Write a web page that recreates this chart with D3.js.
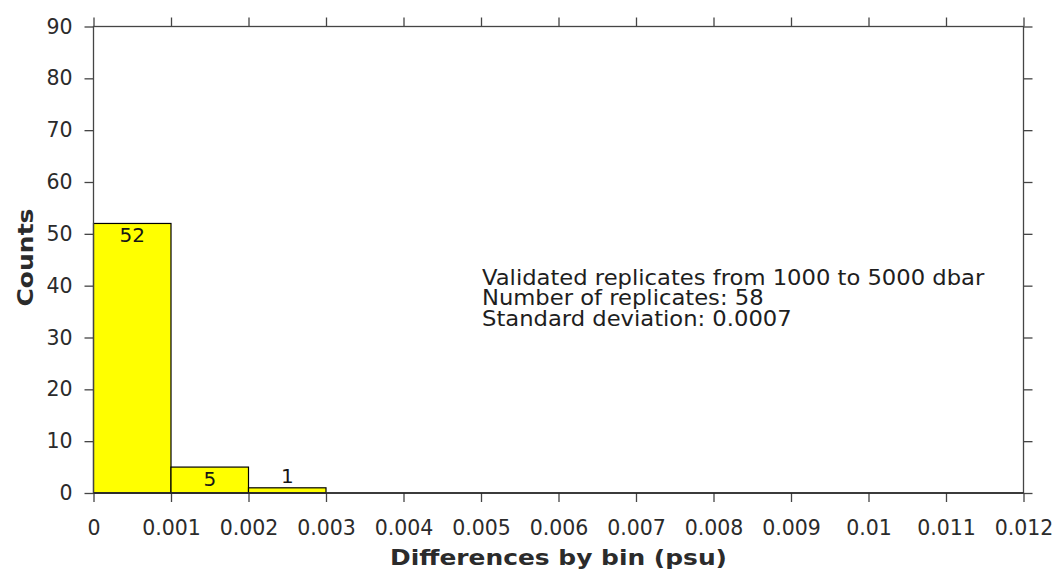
<!DOCTYPE html>
<html>
<head>
<meta charset="utf-8">
<script src="https://cdn.jsdelivr.net/npm/d3@7"></script>
<style>
  html, body { margin: 0; padding: 0; background: #fff; }
  svg { display: block; font-family: "DejaVu Sans", sans-serif; }
</style>
</head>
<body>
<svg id="chart" width="1059" height="574"></svg>
<script>
// Histogram bins (psu) and counts
const binEdges = [0, 0.001, 0.002, 0.003];
const counts = [52, 5, 1];
const xTicks = [0, 0.001, 0.002, 0.003, 0.004, 0.005, 0.006, 0.007, 0.008, 0.009, 0.01, 0.011, 0.012];
const yTicks = [0, 10, 20, 30, 40, 50, 60, 70, 80, 90];
const infoLines = [
  "Validated replicates from 1000 to 5000 dbar",
  "Number of replicates: 58",
  "Standard deviation: 0.0007"
];

const plotLeft = 93.5, plotRight = 1023.5, plotTop = 26.5, plotBottom = 493;
const svg = d3.select("#chart");

const x = d3.scaleLinear().domain([0, 0.012]).range([plotLeft, plotRight]);
const y = d3.scaleLinear().domain([0, 90]).range([plotBottom, plotTop]);

const axisColor = "#454545";
const textColor = "#2b2b2b";
const fontSize = 20.5;

// Bars
const bins = counts.map((c, i) => ({ x0: binEdges[i], x1: binEdges[i + 1], count: c }));
svg.append("g").selectAll("rect").data(bins).join("rect")
  .attr("x", d => x(d.x0))
  .attr("y", d => y(d.count))
  .attr("width", d => x(d.x1) - x(d.x0))
  .attr("height", d => y(0) - y(d.count))
  .attr("fill", "#ffff00")
  .attr("stroke", "#000")
  .attr("stroke-width", 1.2);

// Bar count labels: inside the bar when tall enough, above otherwise
svg.append("g").selectAll("text").data(bins).join("text")
  .attr("x", d => (x(d.x0) + x(d.x1)) / 2)
  .attr("y", d => (y(0) - y(d.count) > 20) ? y(d.count) + 19 : y(d.count) - 5)
  .attr("text-anchor", "middle")
  .attr("font-size", fontSize - 0.5)
  .attr("fill", "#151515")
  .text(d => d.count);

const fmt = v => v === 0 ? "0" : String(+v.toFixed(3));

function styleAxis(g) {
  g.select(".domain").remove();
  g.selectAll(".tick line").attr("stroke", axisColor).attr("stroke-width", 1.3);
  g.selectAll(".tick text").attr("fill", textColor).attr("font-size", fontSize)
    .attr("font-family", "DejaVu Sans, sans-serif");
}

// Bottom axis
svg.append("g").attr("transform", `translate(0,${plotBottom})`)
  .call(d3.axisBottom(x).tickValues(xTicks).tickFormat(fmt).tickSizeInner(9).tickSizeOuter(0).tickPadding(18))
  .call(styleAxis);
// Top axis (ticks only)
svg.append("g").attr("transform", `translate(0,${plotTop})`)
  .call(d3.axisTop(x).tickValues(xTicks).tickFormat("").tickSizeInner(9).tickSizeOuter(0))
  .call(styleAxis);
// Left axis
svg.append("g").attr("transform", `translate(${plotLeft},0)`)
  .call(d3.axisLeft(y).tickValues(yTicks).tickSizeInner(9).tickSizeOuter(0).tickPadding(12))
  .call(styleAxis);
// Right axis (ticks only)
svg.append("g").attr("transform", `translate(${plotRight},0)`)
  .call(d3.axisRight(y).tickValues(yTicks).tickFormat("").tickSizeInner(9).tickSizeOuter(0))
  .call(styleAxis);

// Plot frame
svg.append("rect")
  .attr("x", plotLeft).attr("y", plotTop)
  .attr("width", plotRight - plotLeft).attr("height", plotBottom - plotTop)
  .attr("fill", "none").attr("stroke", axisColor).attr("stroke-width", 1.3);

// Baseline in black over bars
svg.append("line")
  .attr("x1", plotLeft).attr("x2", plotRight).attr("y1", plotBottom).attr("y2", plotBottom)
  .attr("stroke", "#222").attr("stroke-width", 1.3);

// Axis titles (slightly widened lettering)
svg.append("text")
  .attr("x", 558.5).attr("y", 565)
  .attr("text-anchor", "middle").attr("font-size", fontSize).attr("font-weight", "bold")
  .attr("fill", textColor)
  .attr("textLength", 337).attr("lengthAdjust", "spacingAndGlyphs")
  .text("Differences by bin (psu)");

svg.append("text")
  .attr("transform", `translate(33,257.5) rotate(-90)`)
  .attr("text-anchor", "middle").attr("font-size", fontSize).attr("font-weight", "bold")
  .attr("fill", textColor)
  .attr("textLength", 98).attr("lengthAdjust", "spacingAndGlyphs")
  .text("Counts");

// Info block
svg.append("g").selectAll("text").data(infoLines).join("text")
  .attr("x", x(0.005) + 1)
  .attr("y", (d, i) => 285 + i * 20.3)
  .attr("font-size", fontSize)
  .attr("fill", "#1e1e1e")
  .text(d => d)
  .each(function () {
    const w = this.getComputedTextLength();
    d3.select(this).attr("textLength", w * 1.105).attr("lengthAdjust", "spacingAndGlyphs");
  });
</script>
</body>
</html>
